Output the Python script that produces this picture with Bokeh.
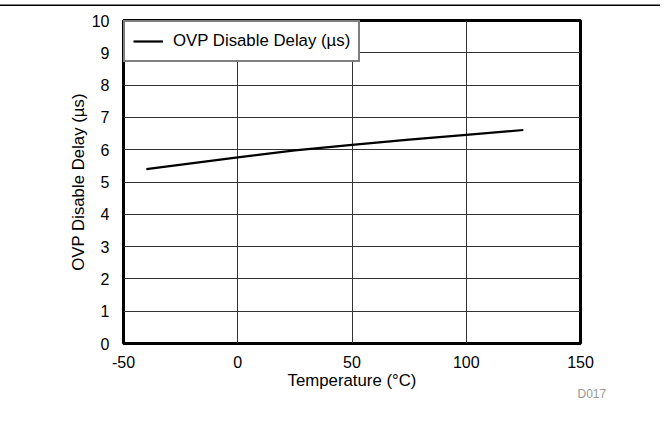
from bokeh.plotting import figure
from bokeh.models import Range1d, FixedTicker, Legend, LegendItem, Title
from bokeh.embed import file_html
from bokeh.resources import INLINE

# Data
temperature_c = [-40, 0, 25, 50, 75, 100, 125]
ovp_disable_delay_us = [5.40, 5.76, 5.98, 6.15, 6.31, 6.46, 6.61]
x_ticks = [-50, 0, 50, 100, 150]
x_tick_labels = ["-50", "0", "50", "100", "150"]
y_ticks = [0, 1, 2, 3, 4, 5, 6, 7, 8, 9, 10]
series_name = "OVP Disable Delay (\u00b5s)"
x_title = "Temperature (\u00b0C)"
y_title = "OVP Disable Delay (\u00b5s)"
figure_id = "D017"

FONT = "Liberation Sans"
FS = "16px"
FS_T = "16.8px"

p = figure(width=660, height=418, output_backend="svg", toolbar_location=None,
           x_range=Range1d(-50, 150), y_range=Range1d(0, 10),
           min_border_left=123, min_border_right=80, min_border_top=14, min_border_bottom=81)
p.styles = {"margin-top": "5.5px", "box-shadow": "0px -1.5px 0px 0px black"}

p.background_fill_color = "white"
p.border_fill_color = "white"
p.outline_line_color = "black"
p.outline_line_width = 3

for ax in (p.xaxis[0], p.yaxis[0]):
    ax.axis_line_color = None
    ax.major_tick_line_color = None
    ax.minor_tick_line_color = None
    ax.major_label_text_font = FONT
    ax.major_label_text_font_size = FS
    ax.major_label_text_color = "black"
    ax.axis_label_text_font = FONT
    ax.axis_label_text_font_size = FS_T
    ax.axis_label_text_font_style = "normal"
    ax.axis_label_text_color = "black"

p.xaxis.ticker = FixedTicker(ticks=x_ticks)
p.xaxis.major_label_overrides = {t: s for t, s in zip(x_ticks, x_tick_labels)}
p.yaxis.ticker = FixedTicker(ticks=y_ticks)
p.xaxis.axis_label = x_title
p.yaxis.axis_label = y_title
p.xaxis.major_label_standoff = 6
p.xaxis.axis_label_standoff = 0
p.yaxis.major_label_standoff = 8
p.yaxis.axis_label_standoff = 1

p.xgrid.ticker = FixedTicker(ticks=x_ticks)
p.ygrid.ticker = FixedTicker(ticks=y_ticks)
for g in (p.xgrid[0], p.ygrid[0]):
    g.grid_line_color = "#333333"
    g.grid_line_width = 1

r = p.line(temperature_c, ovp_disable_delay_us, line_color="black", line_width=2.2)

legend = Legend(items=[LegendItem(label=series_name, renderers=[r])], location="top_left")
legend.margin = 0
legend.padding = 8
legend.spacing = 0
legend.label_standoff = 10
legend.glyph_width = 30
legend.glyph_height = 22
legend.label_height = 22
legend.label_text_font = FONT
legend.label_text_font_size = FS_T
legend.label_text_color = "black"
legend.border_line_color = "black"
legend.border_line_width = 2.5
legend.background_fill_color = "white"
legend.background_fill_alpha = 1
p.add_layout(legend)

note = Title(text=figure_id, align="left", offset=454, standoff=-16,
             text_font=FONT, text_font_size="12px", text_color="#999999",
             text_font_style="normal")
p.add_layout(note, "below")

open("out.html", "w").write(file_html(p, INLINE))
